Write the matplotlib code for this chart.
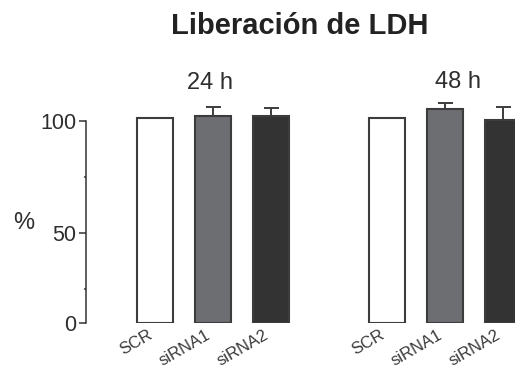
import numpy as np
import matplotlib
matplotlib.use("Agg")
import matplotlib.pyplot as plt
from matplotlib.ticker import FixedLocator, NullFormatter

plt.rcParams['font.family'] = ['Liberation Sans', 'DejaVu Sans']

# Data
categories = ["SCR", "siRNA1", "siRNA2"]
groups = ["24 h", "48 h"]
means_24h = [101, 102, 102]
err_24h = [0, 4, 3.5]
means_48h = [101, 105, 100.3]
err_48h = [0, 3, 5.7]
ytick_values = [0, 50, 100]
ytick_minor = [25, 75]

fills = ["#ffffff", "#6d6e72", "#333333"]
edge = "#3c3c3c"
text_col = "#2e2e2e"

# Compressed 0-25 segment on the y axis
r = 0.618
def fwd(v):
    v = np.asarray(v, dtype=float)
    return np.where(v < 25, v * r, v - 25 + 25 * r)

def inv(s):
    s = np.asarray(s, dtype=float)
    return np.where(s < 25 * r, s / r, s + 25 - 25 * r)

W, H = 515, 369
fig = plt.figure(figsize=(W / 100, H / 100), dpi=100)

xlo, xhi = -1.197, 6.4
unit = 57.9
left_px, bottom_px = 86, 323.3
ymax = 112
s_top = float(fwd(ymax))
ax_h_px = s_top * 2.24
ax = fig.add_axes([left_px / W, (H - bottom_px) / H,
                   (xhi - xlo) * unit / W, ax_h_px / H])
ax.set_yscale('function', functions=(fwd, inv))
ax.set_ylim(0, ymax)
ax.set_xlim(xlo, xhi)

pos_24 = np.array([0, 1, 2])
pos_48 = np.array([4, 5, 6])
bw = 0.62

for pos, means, errs in [(pos_24, means_24h, err_24h), (pos_48, means_48h, err_48h)]:
    ax.errorbar(pos, means, yerr=[np.zeros(len(errs)), errs], fmt='none',
                ecolor=edge, elinewidth=1.4, capsize=5.4, capthick=1.4, zorder=1)
    ax.bar(pos, means, width=bw, color=fills, edgecolor=edge, linewidth=1.5, zorder=2)

# Axes styling
for side in ["top", "right", "bottom"]:
    ax.spines[side].set_visible(False)
ax.spines["left"].set_bounds(0, 100)
ax.spines["left"].set_color("#333333")
ax.spines["left"].set_linewidth(1.1)

ax.yaxis.set_major_locator(FixedLocator(ytick_values))
ax.yaxis.set_minor_locator(FixedLocator(ytick_minor))
ax.yaxis.set_minor_formatter(NullFormatter())
ax.set_yticklabels([str(v) for v in ytick_values])
ax.tick_params(axis='y', which='major', length=5, width=1.1, color="#333333",
               labelsize=15.5, labelcolor=text_col, pad=2)
ax.tick_params(axis='y', which='minor', length=1.6, width=1.1, color="#333333")

ax.set_xticks(np.concatenate([pos_24, pos_48]))
ax.set_xticklabels(categories * 2, rotation=30, ha='right', va='top',
                   fontsize=12, color="#3a3a3a")
ax.tick_params(axis='x', length=0, pad=3)

# Texts
fig.text(299.5 / W, 1 - 26 / H, "Liberación de LDH", ha='center', va='center',
         fontsize=21, fontweight='bold', color="#222222")
fig.text(210 / W, 1 - 83 / H, groups[0], ha='center', va='center',
         fontsize=17, color=text_col)
fig.text(458 / W, 1 - 81.5 / H, groups[1], ha='center', va='center',
         fontsize=17, color=text_col)
fig.text(23.5 / W, 1 - 223 / H, "%", ha='center', va='center',
         fontsize=17, color=text_col)

fig.savefig("out.png", dpi=100)
